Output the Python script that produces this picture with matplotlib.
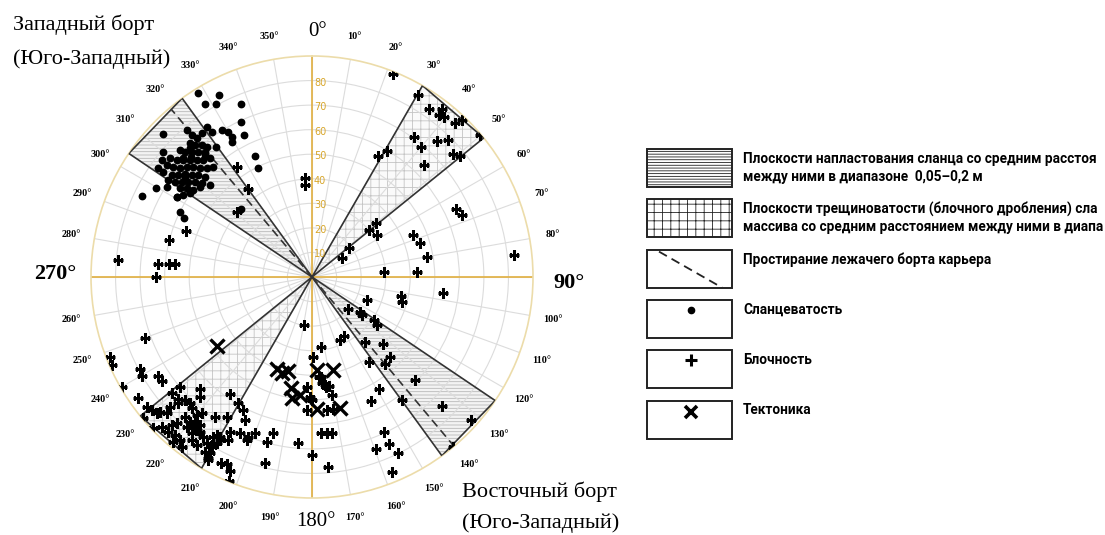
import numpy as np
import matplotlib
matplotlib.use("Agg")
import matplotlib.pyplot as plt
from matplotlib.patches import Polygon, Rectangle
import matplotlib.transforms as mtransforms

# ---------------- data (azimuth in degrees, dip value on radial scale) ----------------
schist_az = [328.1, 332.8, 328.3, 331.0, 337.7, 335.3, 328.4, 329.9, 334.5, 334.8, 333.6, 330.1,
             329.3, 295.4, 299.6, 313.8, 296.3, 294.7, 300.6, 313.5, 323.6,
             319.6, 319.7, 320.3, 322.5, 325.0, 325.4, 317.6, 318.4, 320.1, 321.1, 313.9, 314.6,
             316.2, 317.8, 319.5, 310.1, 309.9, 310.9, 312.3, 313.8, 315.4, 317.1, 319.3, 307.9,
             307.6, 308.5, 309.5, 311.2, 312.9, 314.1, 315.9, 318.0, 305.3, 305.3, 306.0, 307.3,
             308.3, 310.3, 311.9, 313.2, 304.0, 304.8, 306.2, 307.6, 309.2, 310.3, 312.0, 303.9,
             305.3, 306.2, 308.9, 302.5, 304.5, 301.9, 300.7, 316.8, 318.9, 312.6, 309.0, 314.9]
schist_dip = [88.1, 83.3, 82.8, 80.6, 76.1, 69.4, 70.2, 68.4, 64.0, 54.5, 49.7, 65.6,
              64.1, 76.8, 73.1, 84.2, 60.0, 57.2, 63.7, 40.0, 65.9,
              78.7, 75.8, 73.4, 73.8, 74.7, 71.9, 73.7, 71.8, 70.0, 68.2, 74.6, 72.6,
              70.7, 68.9, 67.1, 79.2, 75.4, 72.8, 70.8, 68.8, 66.9, 65.0, 63.7, 77.6,
              74.7, 72.2, 69.6, 67.8, 66.0, 63.6, 61.6, 60.1, 76.6, 74.2, 70.6, 68.5,
              65.9, 64.2, 62.2, 59.7, 70.6, 68.0, 65.7, 63.6, 61.4, 58.9, 55.9, 64.7,
              62.5, 59.9, 58.6, 62.1, 60.2, 69.7, 64.1, 72.3, 66.2, 71.5, 66.8, 69.3]

block_az = [325.7, 324.0, 310.9, 290.1, 284.5, 275.0, 274.8, 275.2, 275.4, 269.9, 356.0, 355.6,
            21.8, 30.3, 35.0, 37.7, 38.2, 39.6, 42.8, 43.6, 49.8, 36.1, 40.0, 42.5, 44.9, 48.8,
            50.7, 45.1, 28.7, 30.9, 49.7, 50.6, 57.3, 52.4, 57.2, 64.8, 67.6, 67.5, 72.7, 80.0,
            85.8, 87.1, 83.8,
            96.8, 102.1, 105.4, 112.8, 131.7, 125.9, 127.4, 124.7, 126.6, 189.5, 156.0, 151.5,
            140.7, 133.2, 135.6, 172.9, 179.5, 145.9, 140.1, 135.0, 149.1, 154.6, 143.9, 134.6,
            132.0, 140.2, 175.0, 172.7, 176.8, 174.6, 172.6, 155.0, 159.6, 155.2, 153.8, 157.8,
            180.1, 175.1,
            182.8, 181.0, 180.1, 175.8, 174.8, 173.1, 171.0, 170.5, 182.3, 173.4, 170.9, 184.7,
            249.8, 248.3, 246.3, 241.8, 239.7, 237.2, 235.4, 239.9, 235.2, 230.3, 224.9, 223.1,
            215.0, 210.3, 207.3, 205.1, 214.8, 211.4, 207.9, 204.7, 201.7, 200.0, 201.8, 195.4,
            194.2, 194.2, 206.0, 204.5, 202.9, 202.1, 211.5, 209.8, 210.8, 211.1, 209.4,
            230.3, 227.6, 231.9, 230.3, 228.7, 230.0, 228.5, 226.8, 227.6, 226.6, 225.9, 224.0,
            222.5, 222.3, 219.9, 219.0, 220.1, 218.9, 217.1, 219.9, 218.5, 217.0, 222.8, 223.5,
            225.1, 222.9, 220.9, 219.0, 220.1, 217.5, 217.6, 216.4, 215.9, 214.2, 214.5, 212.3,
            210.6, 210.1, 209.5, 211.7, 209.8, 209.9, 207.2, 226.4]
block_dip = [54.4, 44.1, 40.6, 54.8, 60.1, 79.2, 62.8, 58.4, 56.0, 63.6, 40.4, 37.6,
             89.0, 85.8, 83.3, 86.3, 83.9, 84.4, 85.7, 88.3, 89.6, 70.4, 68.9, 75.1, 78.7, 76.1,
             77.9, 64.6, 56.2, 59.8, 34.2, 30.2, 31.6, 19.2, 14.5, 64.8, 66.2, 44.7, 46.1, 47.4,
             29.4, 42.9, 82.9,
             53.8, 36.9, 37.9, 24.2, 19.8, 24.1, 25.5, 30.7, 32.8, 19.8, 28.1, 27.3,
             34.0, 39.8, 45.4, 28.8, 32.4, 41.6, 46.3, 59.3, 53.3, 55.7, 62.0, 74.6,
             87.0, 89.9, 41.0, 45.0, 63.7, 63.9, 64.2, 69.5, 74.8, 75.0, 79.7, 85.9,
             72.5, 77.5,
             44.7, 48.7, 50.1, 40.7, 43.5, 44.3, 44.9, 48.7, 54.2, 54.5, 54.6, 68.0,
             72.4, 88.5, 89.1, 79.5, 80.3, 74.4, 74.3, 89.6, 86.1, 69.9, 64.6, 66.7,
             58.2, 59.5, 61.0, 64.3, 69.2, 66.6, 71.3, 70.1, 70.0, 67.7, 71.5, 69.5,
             65.4, 78.0, 84.1, 83.7, 85.6, 89.5, 83.4, 85.0, 79.7, 75.1, 76.2,
             74.2, 73.8, 85.6, 84.8, 84.1, 89.6, 82.7, 81.1, 78.3, 74.9, 72.0, 71.5,
             72.5, 76.9, 73.2, 71.4, 77.1, 75.8, 75.6, 79.5, 78.7, 78.0, 81.1, 83.0,
             86.4, 86.0, 85.1, 85.4, 87.7, 87.1, 80.3, 82.5, 77.8, 78.7, 83.0, 80.2,
             80.3, 82.9, 85.6, 76.4, 78.0, 75.0, 74.6, 89.3]

tect_az = [200.9, 197.6, 194.2, 190.8, 185.8, 189.5, 176.7, 167.1, 178.0, 168.0, 234.1]
tect_dip = [40.2, 40.9, 39.4, 46.1, 48.3, 50.1, 37.9, 38.8, 53.9, 54.7, 47.9]

# sectors (from, to azimuth) and pit wall strike
bedding_sectors = [(304, 324), (124, 144)]
fracture_sectors = [(30, 51), (210, 231)]
strike_az = [320, 140]

angle_labels = [a for a in range(10, 360, 10) if a not in (90, 180, 270)]
radial_labels = list(range(10, 90, 10))

# legend texts as visible in the source (cut by the image border there)
legend_texts = [
    ["Плоскости напластования сланца со средним расстоя",
     "между ними в диапазоне  0,05–0,2 м"],
    ["Плоскости трещиноватости (блочного дробления) сла",
     "массива со средним расстоянием между ними в диапа"],
    ["Простирание лежачего борта карьера"],
    ["Сланцеватость"],
    ["Блочность"],
    ["Тектоника"],
]

# ---------------- figure ----------------
plt.rcParams["hatch.linewidth"] = 0.6
W, H = 1105, 535
fig = plt.figure(figsize=(W / 100, H / 100), dpi=100)
cx, cy, R = 312, 277, 221
ax = fig.add_axes([(cx - R) / W, (H - cy - R) / H, 2 * R / W, 2 * R / H], projection="polar")
ax.set_theta_zero_location("N")
ax.set_theta_direction(-1)
ax.set_ylim(0, 90)
ax.set_xticks(np.radians(np.arange(0, 360, 10)))
ax.set_xticklabels([])
ax.set_yticks(radial_labels)
ax.set_yticklabels([])
ax.tick_params(length=0)
ax.grid(color="#dcdcdc", lw=0.8)
ax.spines["polar"].set_color("#ecdcaa")
ax.spines["polar"].set_linewidth(1.2)

for t in (0, 90, 180, 270):
    ax.plot([np.radians(t)] * 2, [0, 90], color="#e2b44c", lw=1.3, zorder=2)

def sector(a1, a2, hatch, fc, hc):
    verts = [(0, 0), (np.radians(a1), 90), (np.radians(a2), 90)]
    ax.add_patch(Polygon(verts, closed=True, facecolor=fc, edgecolor=hc, hatch=hatch,
                         lw=0, zorder=1.5))
    ax.add_patch(Polygon(verts, closed=True, fill=False, edgecolor="#333333", lw=1.2, zorder=3))

for a1, a2 in bedding_sectors:
    sector(a1, a2, "-----", "#f3f3f3", "#b8b8b8")
for a1, a2 in fracture_sectors:
    sector(a1, a2, "++", "#fafafa", "#c4c4c4")

for a in strike_az:
    ax.plot([np.radians(a)] * 2, [0, 89], color="#333333", lw=1.2, dashes=(5, 3), zorder=3)

ax.plot(np.radians(schist_az), schist_dip, "o", ms=4.6, color="black", ls="none", zorder=5)
ax.plot(np.radians(block_az), block_dip, "+", ms=7.5, mew=2.2, color="black", ls="none", zorder=5)
ax.plot(np.radians(tect_az), tect_dip, "x", ms=9.5, mew=2.4, color="black", ls="none", zorder=5)

serif = ["Liberation Serif", "DejaVu Serif"]
for a in angle_labels:
    ax.text(np.radians(a), 99.5, f"{a}°", ha="center", va="center", fontsize=7.3,
            fontweight="bold", family=serif)
ax.text(np.radians(1.2), 100, "0°", ha="center", va="center", fontsize=15, family=serif)
ax.text(np.radians(179), 99.5, "180°", ha="center", va="center", fontsize=15, family=serif)
ax.text(np.radians(91.3), 104.5, "90°", ha="center", va="center", fontsize=16,
        fontweight="bold", family=serif)
ax.text(np.radians(270.7), 104.5, "270°", ha="center", va="center", fontsize=16,
        fontweight="bold", family=serif)

off = mtransforms.offset_copy(ax.transData, fig=fig, x=2, y=-2, units="dots")
for r in radial_labels:
    ax.text(0, r, str(r), transform=off, color="#d8a62a", fontsize=7, ha="left", va="center")

fig.text(13 / W, 1 - 25 / H, "Западный борт", family=serif, fontsize=16, va="center", ha="left")
fig.text(13 / W, 1 - 59 / H, "(Юго-Западный)", family=serif, fontsize=16, va="center", ha="left")
fig.text(462 / W, 1 - 492 / H, "Восточный борт", family=serif, fontsize=16, va="center", ha="left")
fig.text(462 / W, 1 - 523 / H, "(Юго-Западный)", family=serif, fontsize=16, va="center", ha="left")

# ---------------- legend ----------------
lax = fig.add_axes([0, 0, 1, 1], zorder=-1)
lax.set_xlim(0, W)
lax.set_ylim(H, 0)
lax.axis("off")
bx, bw, bh = 647, 85, 38
tops = [149 + 50.3 * i for i in range(6)]
hatches = ["------", "++", None, None, None, None]
lf = ["Roboto", "DejaVu Sans"]
for i, top in enumerate(tops):
    lax.add_patch(Rectangle((bx, top), bw, bh, facecolor="white", edgecolor="#222222",
                            lw=1.4, hatch=hatches[i]))
    lines = legend_texts[i]
    for j, s in enumerate(lines):
        lax.text(743, top + 10 + 18 * j, s, fontsize=9.85, fontweight="bold", family=lf,
                 va="center", ha="left")
lax.plot([bx + 12, bx + 75], [tops[2] + 2, tops[2] + bh], color="#222222", lw=1.3, dashes=(5, 3))
lax.plot([bx + 44], [tops[3] + 10], "o", ms=4.5, color="black")
lax.plot([bx + 44], [tops[4] + 10], "+", ms=8, mew=2.2, color="black")
lax.plot([bx + 44], [tops[5] + 11], "x", ms=9, mew=2.6, color="black")

fig.savefig("out.png", dpi=100)
